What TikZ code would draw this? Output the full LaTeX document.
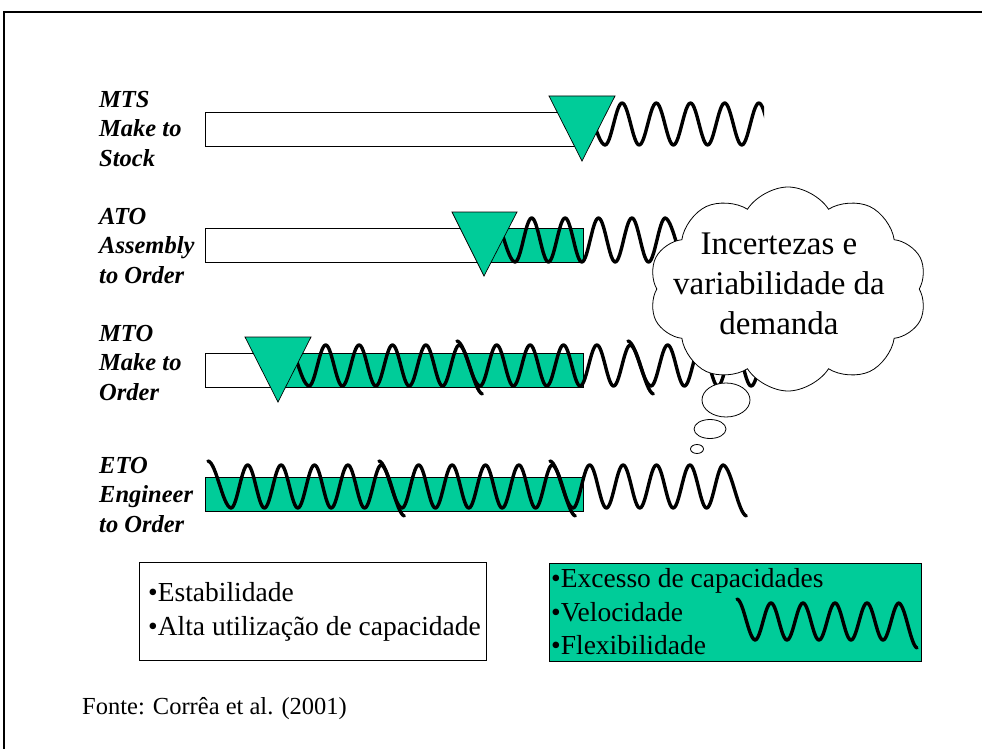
\documentclass[tikz,border=0pt]{standalone}
\usepackage{fontspec}
\setmainfont{Liberation Serif}
\usetikzlibrary{shapes.symbols,shapes.geometric}
\definecolor{stockgreen}{RGB}{0,204,153}

% one spring-like stroke of the demand wave:
% #1 start x, #2 mid line y, #3 amplitude, #4 period, #5 width of the lead-in stroke, #6 number of peaks
\newcommand\waveseg[6]{%
  \pgfmathsetmacro\wsMidEnd{#5+(#6-0.5)*#4}%
  \pgfmathsetmacro\wsTail{#1+\wsMidEnd}%
  \draw[wave]
    plot[domain=0:#5, samples=16] ({#1+\x},{#2+#3*cos((\x-#5)/#5*180)-4*(#5-\x)/#5})
    -- plot[domain=#5:\wsMidEnd, samples=140] ({#1+\x},{#2+#3*cos((\x-#5)/#4*360)})
    -- plot[domain=0:#5, samples=16] ({\wsTail+\x},{#2-#3*cos(\x/#5*180)+8*\x/#5});
}

\tikzset{
  wave/.style={line width=3.4pt, line join=round, line cap=round},
  barbox/.style={draw=black, line width=0.8pt},
  marker/.style={draw=black, fill=stockgreen, line width=0.7pt, line join=miter},
  strategy/.style={anchor=west, align=left, inner sep=0pt,
    font=\fontsize{24.5}{29.5}\selectfont\bfseries\itshape},
  bullets/.style={anchor=west, align=left, inner sep=0pt,
    font=\fontsize{27.5}{33.5}\selectfont},
  bubble/.style={ellipse, draw=black, fill=white, line width=0.8pt, inner sep=0pt},
}

\begin{document}
\begin{tikzpicture}[x=1pt,y=-1pt]
\useasboundingbox (0,0) rectangle (982,749);

% page frame (top and left edges)
\draw[line width=2pt] (4,749) -- (4,12) -- (982,12);

% strategy labels
\node[strategy] (mts) at (99,129) {MTS\\Make to\\Stock};
\node[strategy] (ato) at (99,246) {ATO\\Assembly\\to Order};
\node[strategy] (mto) at (99,363) {MTO\\Make to\\Order};
\node[strategy] (eto) at (99,495) {ETO\\Engineer\\to Order};

% bars: white = stock-driven part, green = order-driven part
\draw[barbox, fill=white] (205,112) rectangle (583,146);

\draw[barbox, fill=white] (205,228) rectangle (583,262);
\fill[stockgreen] (490,228.4) rectangle (582.6,261.6);
\draw[barbox] (205,228) rectangle (583,262);

\draw[barbox, fill=white] (205,353) rectangle (583,387);
\fill[stockgreen] (280,353.4) rectangle (582.6,386.6);
\draw[barbox] (205,353) rectangle (583,387);

\draw[barbox, fill=stockgreen] (205,477) rectangle (583,511);

% demand waves
\begin{scope}
  \clip (560,80) rectangle (764,170);
  \waveseg{582}{124}{21}{34.2}{23}{6}
\end{scope}
\waveseg{492}{240}{22}{33.4}{23}{5}
\waveseg{286}{365.5}{20.5}{33.4}{23}{5}
\waveseg{457}{365.5}{20.5}{33.4}{23}{5}
\begin{scope}
  \clip (600,320) rectangle (766,410);
  \waveseg{628}{365.5}{20.5}{33.4}{23}{5}
\end{scope}
\waveseg{208}{486.5}{21.5}{33.4}{23}{5}
\waveseg{379}{486.5}{21.5}{33.4}{23}{5}
\waveseg{550}{486.5}{21.5}{33.4}{23}{5}

% decoupling points
\draw[marker] (549,96) -- (615,96) -- (582,161) -- cycle;
\draw[marker] (452,212) -- (517,212) -- (484,276) -- cycle;
\draw[marker] (245,337) -- (311,337) -- (278,402) -- cycle;

% thought cloud
\node[cloud, draw=black, fill=white, line width=0.8pt, cloud puffs=10,
      cloud puff arc=115, aspect=1.36, minimum width=278pt, minimum height=204pt,
      inner sep=0pt] (cloud) at (788,289) {};
\node[align=center, inner sep=0pt, font=\fontsize{33}{40}\selectfont] (cloudtext)
  at (779,284) {Incertezas e\\variabilidade da\\demanda};
\node[bubble, minimum width=48pt, minimum height=34pt] (b1) at (726,400) {};
\node[bubble, minimum width=32pt, minimum height=19pt] (b2) at (710,429) {};
\node[bubble, minimum width=13pt, minimum height=9pt] (b3) at (697,449) {};

% legend boxes
\draw[barbox, fill=white] (139,562) rectangle (486,660);
\node[bullets] (stable) at (148,612) {•Estabilidade\\•Alta utilização de capacidade};

\draw[barbox, fill=stockgreen] (549,563) rectangle (921,661);
\node[bullets] (flex) at (551,612) {•Excesso de capacidades\\•Velocidade\\•Flexibilidade};
\waveseg{737}{621.5}{18.5}{32}{18}{5}

% source
\node[anchor=west, inner sep=0pt, font=\fontsize{24.5}{29}\selectfont] (fonte)
  at (82,709) {Fonte: Corrêa et al. (2001)};
\end{tikzpicture}
\end{document}
